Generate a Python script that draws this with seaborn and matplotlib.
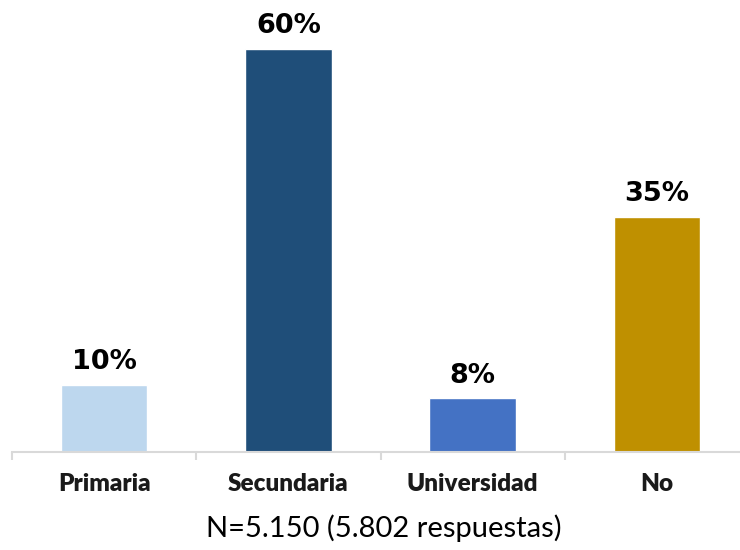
import numpy as np
import pandas as pd
import matplotlib
matplotlib.use("Agg")
import matplotlib.pyplot as plt
import seaborn as sns

# data
categories = ["Primaria", "Secundaria", "Universidad", "No"]
values = [10, 60, 8, 35]
bar_colors = ["#BDD7EE", "#1F4E79", "#4472C4", "#BF9000"]
footnote = "N=5.150 (5.802 respuestas)"

sns.set_theme(style="white")

df = pd.DataFrame({"cat": categories, "pct": values})

fig = plt.figure(figsize=(7.4, 5.5), dpi=100)
# axis spans past the right edge, like the original
ax = fig.add_axes([12 / 740, 98 / 550, 737 / 740, 442 / 550])

sns.barplot(data=df, x="cat", y="pct", hue="cat", palette=bar_colors,
            legend=False, width=0.47, ax=ax, saturation=1)

ax.set_xlim(-0.5, 3.5)
ax.set_ylim(0, 442 / 6.72)

# percentage labels above the bars
for i, v in enumerate(values):
    ax.annotate(f"{v}%", (i, v), xytext=(0, 7), textcoords="offset points",
                ha="center", va="bottom", fontsize=19.5, fontweight="bold",
                family="DejaVu Sans", color="#000000")

# only the bottom axis line, light gray, ticks at category boundaries
for side in ["top", "left", "right"]:
    ax.spines[side].set_visible(False)
ax.spines["bottom"].set_color("#D9D9D9")
ax.spines["bottom"].set_linewidth(1.5)
ax.set_yticks([])
ax.set_xlabel("")
ax.set_ylabel("")
ax.set_xticks(np.arange(-0.5, 4.0, 1.0), minor=True)
ax.tick_params(axis="x", which="minor", length=6, width=1.5, color="#D9D9D9", bottom=True)
ax.tick_params(axis="x", which="major", length=0, pad=15)
for lbl in ax.get_xticklabels():
    lbl.set_fontfamily("Lato")
    lbl.set_fontweight("heavy")
    lbl.set_fontsize(17.5)
    lbl.set_color("#1a1a1a")

fig.text(0.518, 1 - 528 / 550, footnote, ha="center", va="center",
         fontsize=21, family="Lato", color="#000000")

fig.savefig("out.png", dpi=100)
